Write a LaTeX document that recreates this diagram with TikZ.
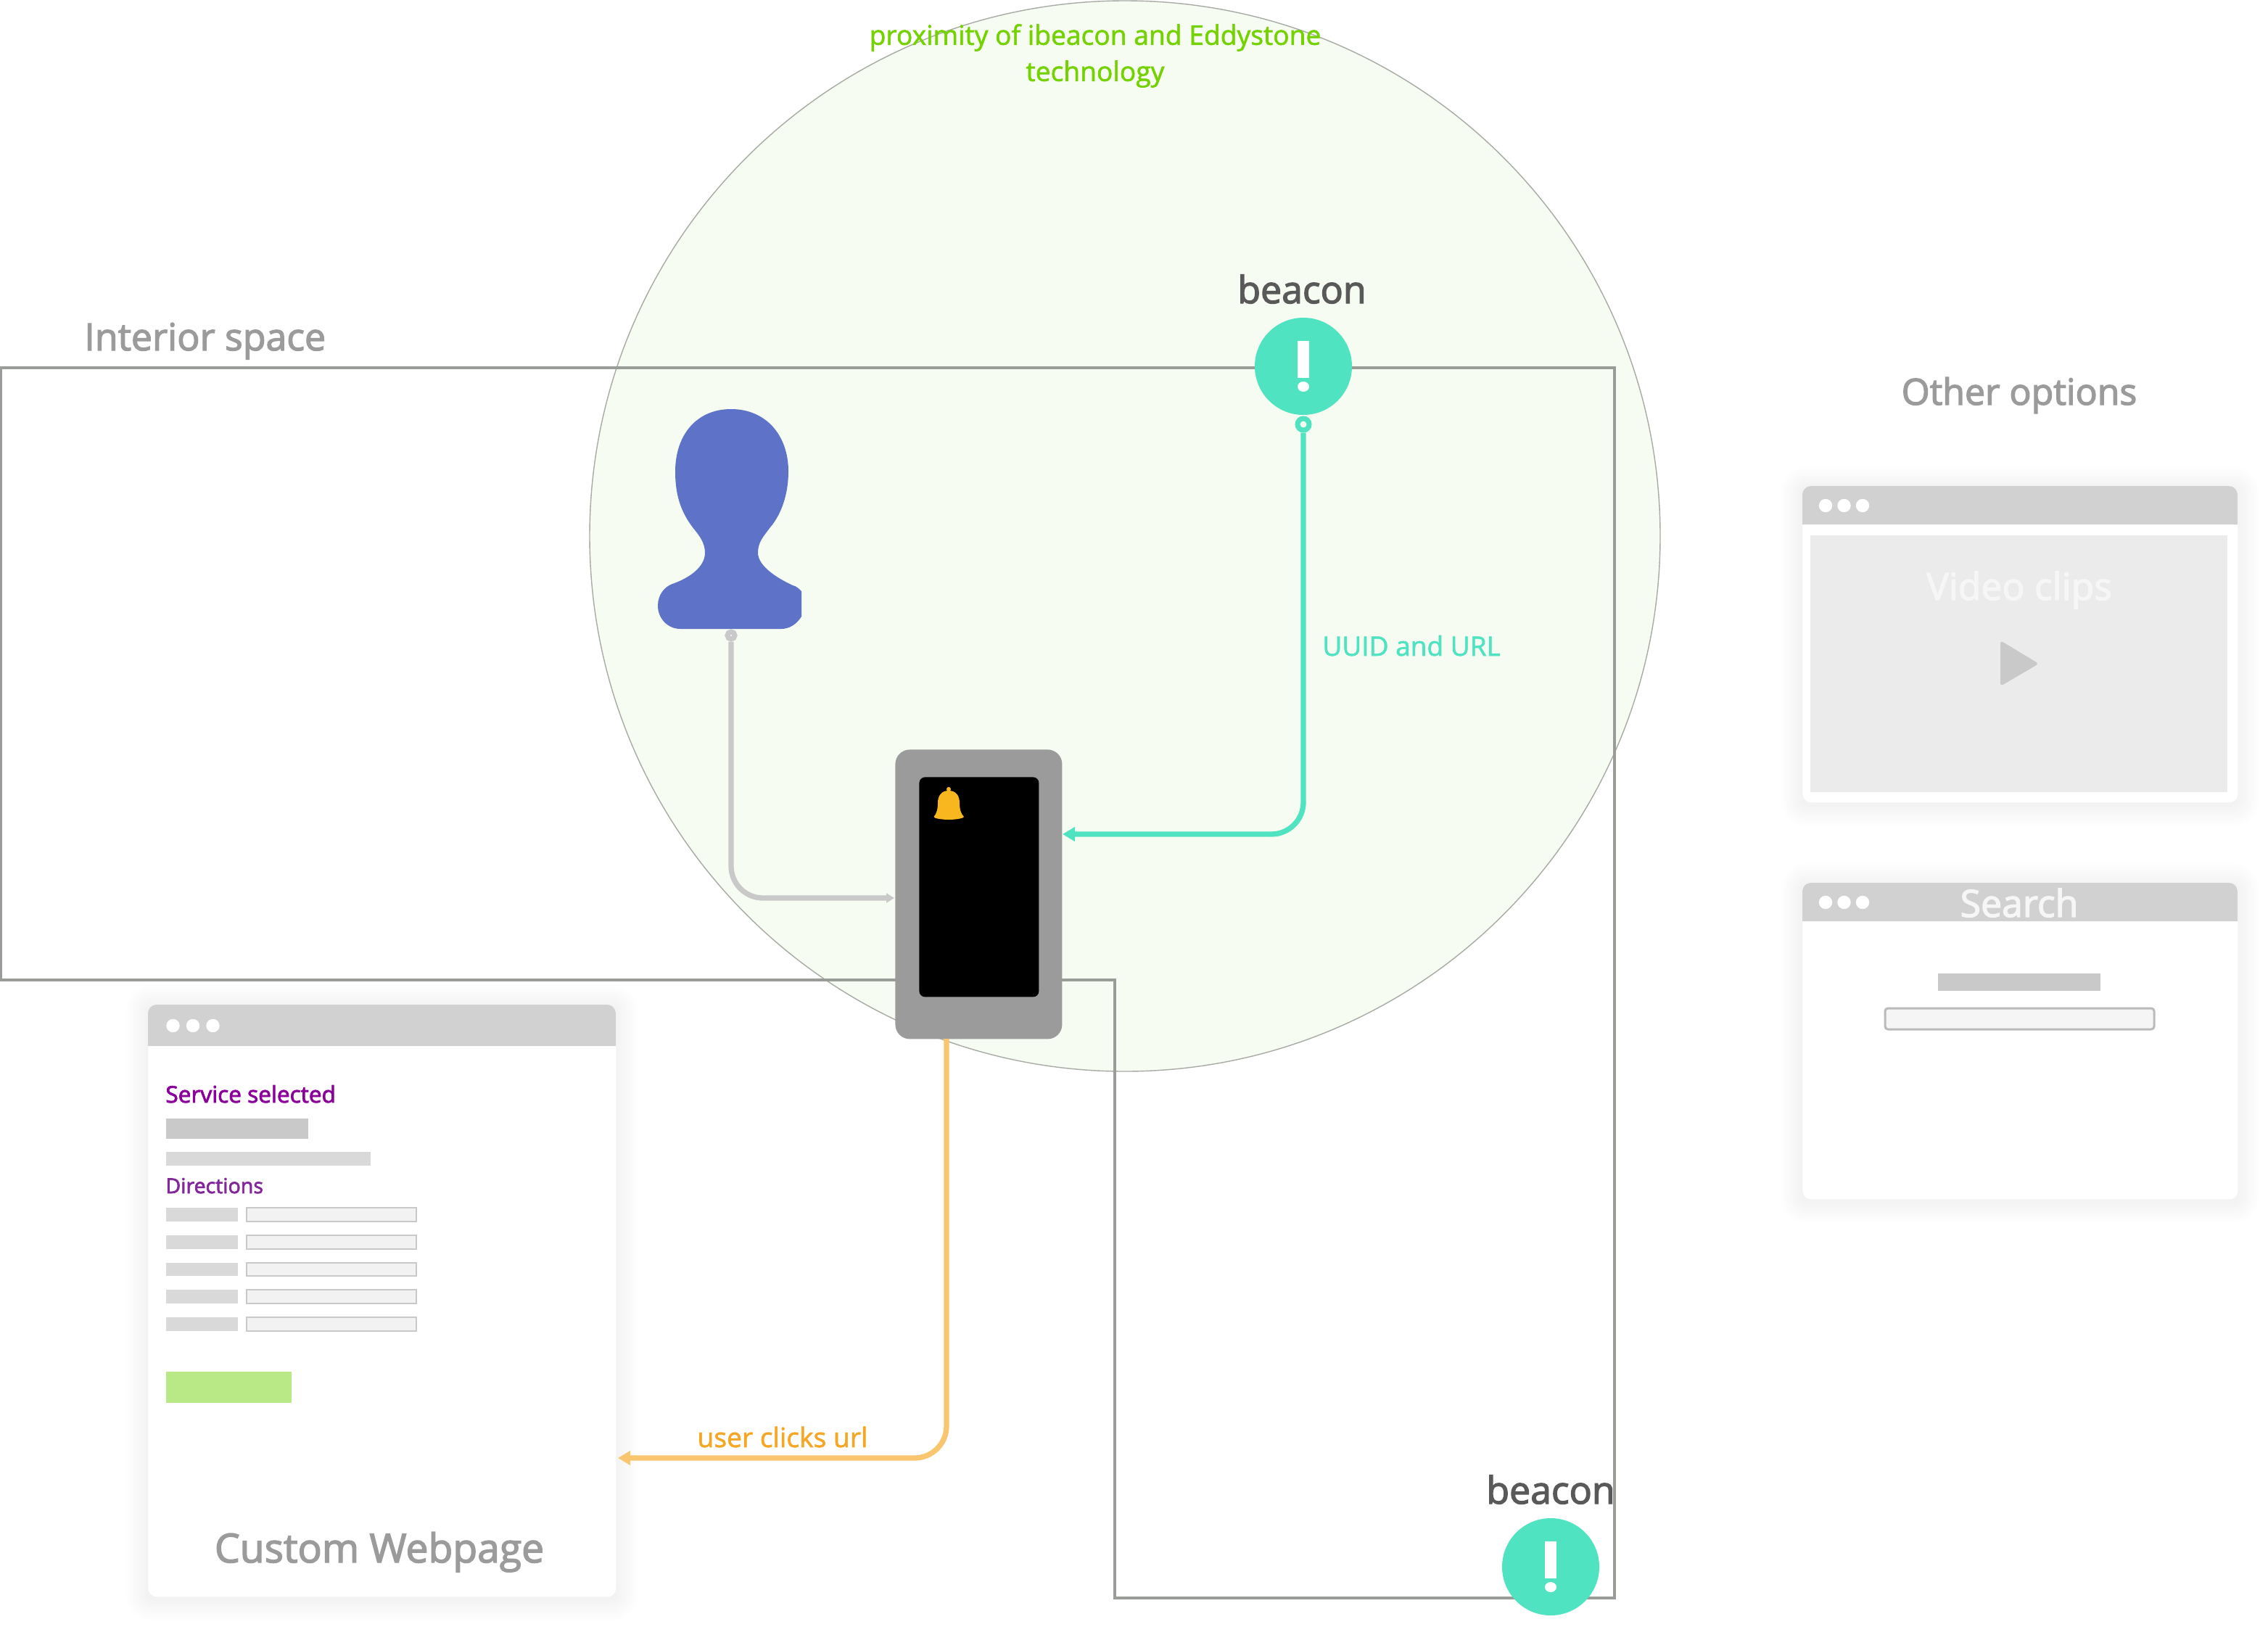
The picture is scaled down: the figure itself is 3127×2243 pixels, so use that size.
\documentclass[tikz,border=0pt]{standalone}
\usepackage{fontspec}
\setmainfont{Open Sans}
\newfontfamily\osemi[FakeBold=2.6]{Open Sans}
\newfontfamily\omed[FakeBold=1.6]{Open Sans}
\usetikzlibrary{arrows.meta}
\definecolor{zonefill}{HTML}{F6FCF2}
\definecolor{zoneline}{HTML}{A8ABA4}
\definecolor{roomline}{HTML}{999C97}
\definecolor{hdr}{HTML}{D1D1D1}
\definecolor{teal}{HTML}{50E3C2}
\definecolor{softgray}{HTML}{C9C9C9}
\definecolor{amber}{HTML}{F9C56F}
\definecolor{labelgray}{HTML}{9B9B9B}
\definecolor{darklabel}{HTML}{595959}
\definecolor{purpleA}{HTML}{8B009B}
\definecolor{purpleB}{HTML}{82289A}
\definecolor{limetext}{HTML}{74D200}
\definecolor{persona}{HTML}{5E72C7}
\definecolor{bell}{HTML}{F8B71E}
\definecolor{gobtn}{HTML}{B8E986}
\definecolor{orangetext}{HTML}{F5A623}
\definecolor{faint}{HTML}{F6F6F6}
\tikzset{
  txt/.style={inner sep=0pt,anchor=base},
  box/.style={rectangle,inner sep=0pt,anchor=north west},
  zonecircle/.style={circle,inner sep=0pt,minimum size=738pt,fill=zonefill,draw=zoneline,line width=0.7pt},
  beaconbadge/.style={circle,inner sep=0pt,minimum size=67pt,fill=teal},
  ringend/.style={circle,inner sep=0pt,draw,fill=none},
  winbody/.style={box,fill=white,rounded corners=6pt},
  dot/.style={circle,fill=white,inner sep=0pt,minimum size=9.2pt},
  flow/.style={line width=3.65pt,rounded corners=22pt},
}
\newcommand{\sized}[1]{\fontsize{#1}{#1}\selectfont}
% name x1 y1 x2 y2 yheader dotstart dotstep dotdy
\newcommand{\windowat}[9]{%
  \foreach \i in {1,...,12}{\fill[black,opacity=.0045,rounded corners={(6+\i*2.5)*0.5pt}] ({#2-\i*2.5},{#3-\i*2.5+3}) rectangle ({#4+\i*2.5},{#5+\i*2.5+3});}
  \node[winbody,minimum width={(#4-#2)*0.5pt},minimum height={(#5-#3)*0.5pt}] (#1) at (#2,#3) {};
  \fill[hdr] (#2,#6) [rounded corners=6pt] -- (#2,#3) -- (#4,#3) [sharp corners] -- (#4,#6) -- cycle;
  \node[dot] (#1d1) at ({#2+#7},{#3+#9}) {};
  \node[dot] (#1d2) at ({#2+#7+#8},{#3+#9}) {};
  \node[dot] (#1d3) at ({#2+#7+2*#8},{#3+#9}) {};
}
\newcommand{\barat}[6]{\node[box,fill=#6,minimum width={(#4-#2)*0.5pt},minimum height={(#5-#3)*0.5pt}] (#1) at (#2,#3) {};}
\begin{document}
\begin{tikzpicture}[x=0.5pt,y=-0.5pt]
\useasboundingbox (0,0) rectangle (3127,2243);
\fill[white] (0,0) rectangle (3127,2243);
% proximity zone
\node[zonecircle] (zone) at (1551,739) {};
% interior space outline
\draw[roomline,line width=2pt] (1,507) -- (2226,507) -- (2226,2203) -- (1537,2203) -- (1537,1351) -- (1,1351) -- cycle;
% texts
\node[txt,align=center,text=limetext,anchor=center,font=\omed\fontsize{18.6}{25}\selectfont] (ztitle) at (1510,77) {proximity of ibeacon and Eddystone\\technology};
\node[txt,text=labelgray,anchor=base west,font=\osemi\sized{25.9}] (interior) at (116,483) {Interior space};
\node[txt,text=labelgray,font=\osemi\sized{25}] (other) at (2784,558) {Other options};
% person
\fill[persona] (1008,564) .. controls (1056,564) and (1087,600) .. (1087,650)
 .. controls (1087,680) and (1078,708) .. (1062,727)
 .. controls (1052,740) and (1045,748) .. (1045,762)
 .. controls (1045,778) and (1065,794) .. (1093,807)
 .. controls (1098,808) and (1102,812) .. (1105,815)
 -- (1105,850)
 .. controls (1098,861) and (1088,867) .. (1077,867)
 -- (938,867)
 .. controls (921,867) and (907,853) .. (907,835)
 .. controls (907,820) and (916,809) .. (927,805)
 .. controls (950,797) and (972,782) .. (972,762)
 .. controls (972,748) and (964,738) .. (955,727)
 .. controls (940,707) and (931,685) .. (931,650)
 .. controls (931,600) and (960,564) .. (1008,564) -- cycle;
% phone
\node[box,fill=labelgray,rounded corners=10pt,minimum width=115pt,minimum height=199.5pt] (phone) at (1234,1033) {};
\node[box,fill=black,rounded corners=4pt,minimum width=82.5pt,minimum height=151.5pt] (screen) at (1267,1071) {};
\fill[bell] (1308,1088) circle[radius=3];
\fill[bell] (1308,1090) .. controls (1298,1090) and (1293,1097) .. (1293,1107) .. controls (1293,1116) and (1291,1122) .. (1287.5,1126) .. controls (1287,1128) and (1298,1130) .. (1308,1130) .. controls (1318,1130) and (1329,1128) .. (1329,1126) .. controls (1325,1122) and (1323,1116) .. (1323,1107) .. controls (1323,1097) and (1318,1090) .. (1308,1090) -- cycle;
% beacons
\node[beaconbadge] (b1) at (1797,505) {};
\fill[white] (1788.5,470) rectangle (1805,521);
\fill[white] (1797,533) ellipse[x radius=8,y radius=7];
\node[txt,text=darklabel,font=\osemi\sized{25.9}] (b1lab) at (1795,418) {beacon};
\node[beaconbadge] (b2) at (2138,2160) {};
\fill[white] (2129.5,2125) rectangle (2146,2176);
\fill[white] (2138,2188) ellipse[x radius=8,y radius=7];
\node[txt,text=darklabel,font=\osemi\sized{25.9}] (b2lab) at (2138,2073) {beacon};
% web window
\windowat{web}{204}{1385}{849}{2201}{1442}{34.5}{27.5}{29}
\node[txt,anchor=base west,text=purpleA,font=\osemi\sized{15.8}] (svc) at (228,1520) {Service selected};
\barat{r1}{229}{1542}{425}{1570}{softgray}
\barat{r2}{229}{1588}{511}{1607}{black!15}
\node[txt,anchor=base west,text=purpleB,font=\osemi\sized{14.3}] (dirs) at (228,1645) {Directions};
\foreach \a/\b in {1665/1684,1703/1722,1741/1759,1778/1797,1816/1835}{
  \fill[black!15] (229,\a) rectangle (328,\b);
  \draw[softgray,fill=black!5,line width=1pt] (340,\a) rectangle (574,\b);
}
\barat{go}{229}{1891}{402}{1934}{gobtn}
\node[txt,text=labelgray,font=\osemi\sized{27.6}] (cw) at (523,2154) {Custom Webpage};
% right windows
\windowat{vid}{2485}{670}{3085}{1106}{723}{32}{25.5}{27}
\barat{vidin}{2496}{738}{3071}{1092}{black!8}
\node[txt,text=faint,font=\osemi\sized{25.8}] (vidt) at (2784,827) {Video clips};
\fill[softgray,rounded corners=2pt] (2758,883) -- (2811,915) -- (2758,946) -- cycle;
\windowat{sea}{2485}{1217}{3085}{1653}{1270}{32}{25.5}{27}
\node[txt,text=faint,font=\osemi\sized{25.9}] (seat) at (2784,1264) {Search};
\barat{sr}{2672}{1342}{2896}{1366}{softgray}
\draw[black!27,fill=black!4,line width=1.5pt,rounded corners=2pt] (2599,1390) rectangle (2970,1419);
% connectors
\node[ringend,draw=teal,line width=3.5pt,minimum size=8pt] (b1ring) at (1797,585) {};
\node[ringend,draw=softgray,line width=3.5pt,minimum size=5pt] (pring) at (1008,876) {};
\coordinate (phoneR) at (1465,1150);
\coordinate (phoneL) at (1233,1238);
\coordinate (phoneB) at (1305,1432);
\coordinate (webR) at (852,2010);
\draw[flow,teal,-{Triangle[length=8.5pt,width=9.5pt]}] (b1ring.south) |- (phoneR);
\draw[flow,softgray,-{Triangle[length=5.5pt,width=6.5pt]}] (pring.south) |- (phoneL);
\draw[flow,amber,-{Triangle[length=8.5pt,width=9.5pt]}] (phoneB) |- (webR);
\node[txt,anchor=base west,text=teal,font=\omed\sized{18.5}] (uuid) at (1823,904) {UUID and URL};
\node[txt,text=orangetext,font=\omed\sized{18.6}] (click) at (1079,1995) {user clicks url};
\end{tikzpicture}
\end{document}
